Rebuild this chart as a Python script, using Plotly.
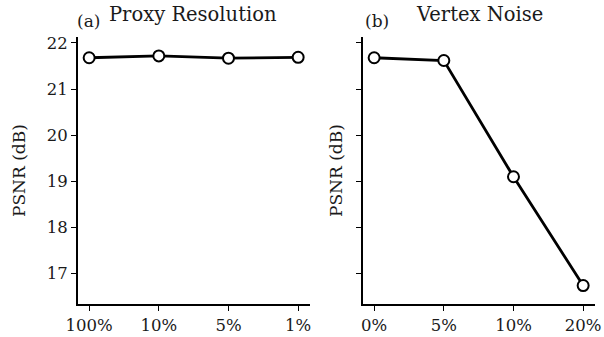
import plotly.graph_objects as go

# Data
res_labels = ["100%", "10%", "5%", "1%"]
res_psnr = [21.68, 21.72, 21.67, 21.69]
noise_labels = ["0%", "5%", "10%", "20%"]
noise_psnr = [21.68, 21.62, 19.1, 16.74]
y_ticks = [17, 18, 19, 20, 21, 22]

W, H = 604, 337
FONT = "DejaVu Serif"
TXT = "#1a1a1a"

fig = go.Figure()

def px_x(v):
    return v / W

def px_y(v):
    return 1 - v / H

marker = dict(size=11, color="white", line=dict(color="black", width=2))
line = dict(color="black", width=2.8)

fig.add_trace(go.Scatter(x=list(range(len(res_labels))), y=res_psnr, mode="lines+markers",
                         marker=marker, line=line, xaxis="x", yaxis="y", showlegend=False))
fig.add_trace(go.Scatter(x=list(range(len(noise_labels))), y=noise_psnr, mode="lines+markers",
                         marker=marker, line=line, xaxis="x2", yaxis="y2", showlegend=False))

yrange = [16.34, 22.13]
xrange = [-0.16, 3.17]
common_axis = dict(showline=True, linecolor="black", linewidth=1.8, ticks="outside",
                   ticklen=5, tickwidth=1.4, tickcolor="black", showgrid=False, zeroline=False,
                   automargin=False,
                   tickfont=dict(family=FONT, size=16.5, color=TXT))

fig.update_layout(
    width=W, height=H, margin=dict(l=0, r=0, t=0, b=0),
    plot_bgcolor="white", paper_bgcolor="white",
    font=dict(family=FONT, color=TXT),
    xaxis=dict(domain=[px_x(78), px_x(310)], range=xrange, tickvals=list(range(4)),
               ticktext=res_labels, anchor="y", **common_axis),
    yaxis=dict(domain=[px_y(304), px_y(37)], range=yrange, tickvals=y_ticks, anchor="x",
               **common_axis),
    xaxis2=dict(domain=[px_x(363), px_x(595)], range=xrange, tickvals=list(range(4)),
                ticktext=noise_labels, anchor="y2", **common_axis),
    yaxis2=dict(domain=[px_y(304), px_y(37)], range=yrange, tickvals=y_ticks, anchor="x2",
                showticklabels=False, **common_axis),
)

annos = [
    ("(a)", 88, 21, 17, 0),
    ("Proxy Resolution", 193, 15, 19.5, 0),
    ("(b)", 377, 21, 17, 0),
    ("Vertex Noise", 480, 15, 19.5, 0),
    ("PSNR (dB)", 19, 171, 17, -90),
    ("PSNR (dB)", 336, 171, 17, -90),
]
for text, x, y, s, ang in annos:
    fig.add_annotation(text=text, x=px_x(x), y=px_y(y), xref="paper", yref="paper",
                       xanchor="center", yanchor="middle", textangle=ang,
                       showarrow=False, font=dict(family=FONT, size=s, color=TXT))

fig.write_html("out.html", config={"displayModeBar": False},
               post_script="document.body.style.margin='0';")
